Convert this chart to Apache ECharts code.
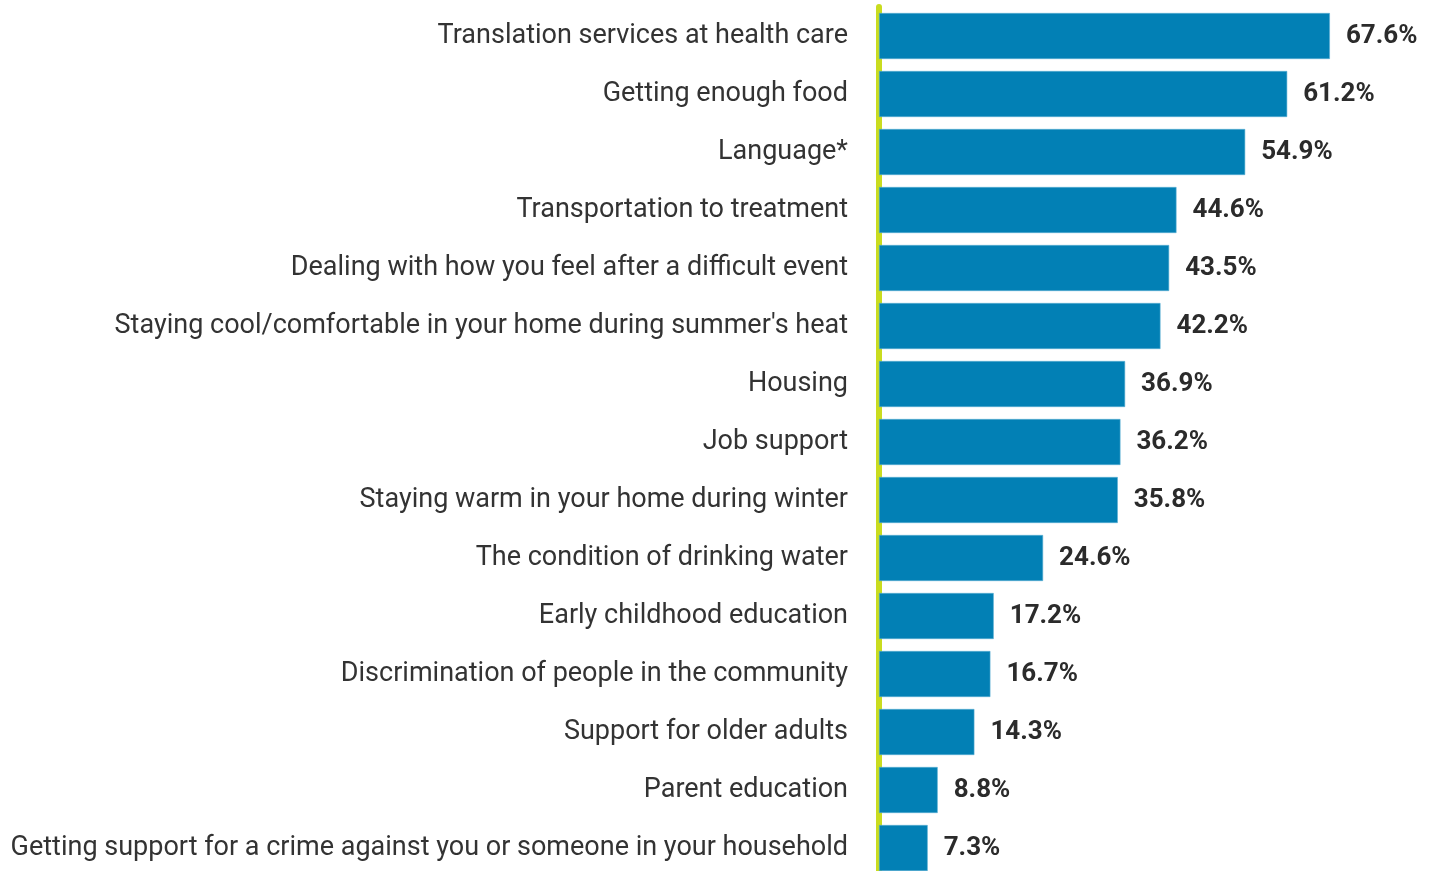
<!DOCTYPE html>
<html><head><meta charset="utf-8">
<script src="https://cdn.jsdelivr.net/npm/echarts@6/dist/echarts.min.js"></script>
<style>html,body{margin:0;padding:0;background:#fff;overflow:hidden;width:1439px;height:871px}#c{width:1439px;height:880px}</style>
</head><body><div id="c"></div>
<script>
const categories = [
  "Translation services at health care",
  "Getting enough food",
  "Language*",
  "Transportation to treatment",
  "Dealing with how you feel after a difficult event",
  "Staying cool/comfortable in your home during summer's heat",
  "Housing",
  "Job support",
  "Staying warm in your home during winter",
  "The condition of drinking water",
  "Early childhood education",
  "Discrimination of people in the community",
  "Support for older adults",
  "Parent education",
  "Getting support for a crime against you or someone in your household"
];
const values = [67.6, 61.2, 54.9, 44.6, 43.5, 42.2, 36.9, 36.2, 35.8, 24.6, 17.2, 16.7, 14.3, 8.8, 7.3];

const chart = echarts.init(document.getElementById('c'));
chart.setOption({
  animation: false,
  grid: { left: 879, top: 7, width: 533.6, height: 870 },
  xAxis: { type: 'value', min: 0, max: 80, show: false },
  yAxis: {
    type: 'category', data: categories, inverse: true,
    offset: 4,
    axisLine: { show: true, lineStyle: { color: '#c9dc1f', width: 6 } },
    axisTick: { show: false },
    axisLabel: { color: '#333', fontFamily: 'Roboto', fontSize: 27, margin: 27 }
  },
  series: [{
    type: 'bar', data: values, barWidth: 46,
    itemStyle: { color: '#0280b5', borderColor: '#5aaed3', borderWidth: 0.6 },
    label: { show: true, position: 'right', distance: 16, formatter: p => p.value.toFixed(1) + '%',
      color: '#2b2b2b', fontFamily: 'Roboto', fontWeight: 'bold', fontSize: 26 }
  }]
});
</script></body></html>
